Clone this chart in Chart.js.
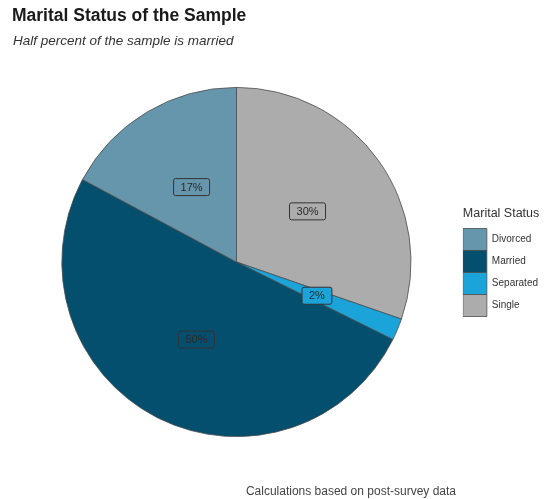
<!DOCTYPE html>
<html>
<head>
<meta charset="utf-8">
<script src="https://cdn.jsdelivr.net/npm/chart.js@4.4.1/dist/chart.umd.min.js"></script>
<style>
  html, body { margin: 0; padding: 0; background: #fff; }
  #wrap { width: 552px; height: 499px; position: relative; }
</style>
</head>
<body>
<div id="wrap"><canvas id="chart" width="552" height="499"></canvas></div>
<script>
// marital status shares, in percent (stacked clockwise from 12 o'clock)
const statuses = ['Single', 'Separated', 'Married', 'Divorced'];
const shares = [30, 2, 50, 17];
const sliceColors = ['#acacac', '#1ba4da', '#034f6d', '#6696ac'];

const titleText = 'Marital Status of the Sample';
const subtitleText = 'Half percent of the sample is married';
const captionText = 'Calculations based on post-survey data';

// title, subtitle and caption drawn in ggplot style
const textPlugin = {
    id: 'plotText',
    afterDraw(chart) {
        const ctx = chart.ctx;
        ctx.save();
        ctx.textBaseline = 'middle';
        ctx.textAlign = 'left';
        ctx.fillStyle = '#1a1a1a';
        ctx.font = 'bold 17.5px "Liberation Sans", Arial, sans-serif';
        ctx.fillText(titleText, 12, 16);
        ctx.fillStyle = '#333';
        ctx.font = 'italic 13.5px "Liberation Sans", Arial, sans-serif';
        ctx.fillText(subtitleText, 13, 41);
        ctx.textAlign = 'right';
        ctx.fillStyle = '#444';
        ctx.font = '12px "Liberation Sans", Arial, sans-serif';
        ctx.fillText(captionText, 456, 492);
        ctx.restore();
    }
};

// boxed percent labels in the middle of each slice
const labelPlugin = {
    id: 'sliceLabels',
    afterDatasetsDraw(chart) {
        const ctx = chart.ctx;
        const meta = chart.getDatasetMeta(0);
        ctx.save();
        ctx.font = '11px "Liberation Sans", Arial, sans-serif';
        ctx.textAlign = 'center';
        ctx.textBaseline = 'middle';
        meta.data.forEach((arc, i) => {
            const p = arc.getCenterPoint();
            const txt = shares[i] + '%';
            const w = ctx.measureText(txt).width + 14;
            const h = 17;
            ctx.beginPath();
            ctx.roundRect(p.x - w / 2, p.y - h / 2, w, h, 2);
            ctx.fillStyle = sliceColors[i];
            ctx.fill();
            ctx.lineWidth = 1;
            ctx.strokeStyle = '#333';
            ctx.stroke();
            ctx.fillStyle = '#2b2b2b';
            ctx.fillText(txt, p.x, p.y + 0.5);
        });
        ctx.restore();
    }
};

const ctx = document.getElementById('chart').getContext('2d');
const chart = new Chart(ctx, {
    type: 'pie',
    data: {
        labels: statuses,
        datasets: [{
            data: shares,
            backgroundColor: sliceColors,
            borderColor: '#4d4d4d',
            borderWidth: 0.8
        }]
    },
    options: {
        responsive: false,
        animation: false,
        layout: {
            padding: { top: 87, bottom: 62, left: 10, right: 4 }
        },
        plugins: {
            legend: {
                position: 'right',
                reverse: true,
                title: {
                    display: true,
                    text: 'Marital Status',
                    position: 'start',
                    color: '#333',
                    font: { family: '"Liberation Sans", Arial, sans-serif', size: 12.5 },
                    padding: { top: 0, bottom: 6 }
                },
                labels: {
                    boxWidth: 24,
                    boxHeight: 22,
                    padding: 0,
                    color: '#333',
                    font: { family: '"Liberation Sans", Arial, sans-serif', size: 10 }
                }
            },
            tooltip: { enabled: false }
        }
    },
    plugins: [textPlugin, labelPlugin]
});
</script>
</body>
</html>
